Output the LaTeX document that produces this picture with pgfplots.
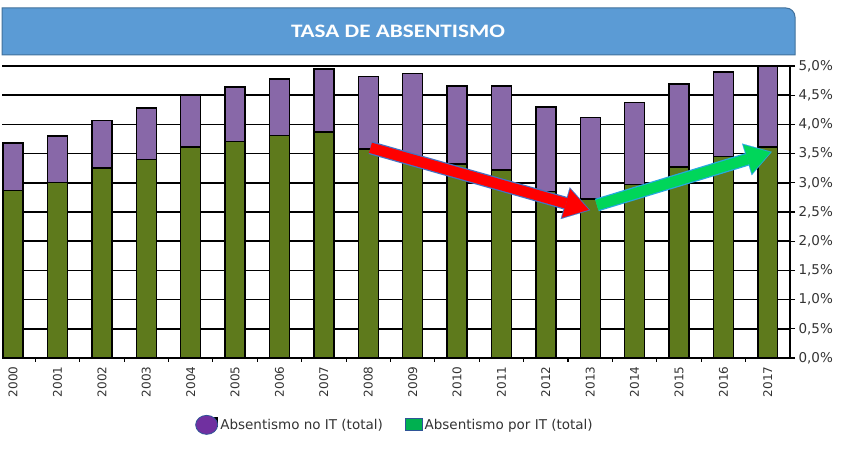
\documentclass[border=0pt]{standalone}
\usepackage{pgfplots}
\pgfplotsset{compat=1.18}
\usepackage{fontspec}
\setmainfont{DejaVu Sans}
\newfontfamily\titlefont{Carlito}
\usetikzlibrary{arrows.meta}
\definecolor{barGreen}{HTML}{5E7A1C}
\definecolor{barPurple}{HTML}{8868A8}
\definecolor{banner}{HTML}{5B9BD5}
\definecolor{bannerEdge}{HTML}{41719C}
\definecolor{legPurple}{HTML}{7030A0}
\definecolor{legGreen}{HTML}{00B050}
\definecolor{legEdge}{HTML}{2F5597}
\definecolor{arrRed}{HTML}{FF0000}
\definecolor{arrRedEdge}{HTML}{4472C4}
\definecolor{arrGreen}{HTML}{00D65A}
\definecolor{arrGreenEdge}{HTML}{25A9E0}
\definecolor{tickText}{HTML}{333333}
\begin{document}
\begin{tikzpicture}[x=1pt,y=1pt]
\useasboundingbox (0,0) rectangle (852,452);
\draw[fill=banner, draw=bannerEdge, line width=1pt] (2,397) -- (2,444) -- (786,444) arc[start angle=90, end angle=0, radius=9] -- (795,397) -- cycle;
\node[text=white, xscale=1.22, font=\titlefont\bfseries\fontsize{19}{22}\selectfont] at (398,421) {TASA DE ABSENTISMO};
\begin{axis}[
  at={(2pt,94pt)}, anchor=south west,
  scale only axis, width=788pt, height=292pt,
  ybar stacked, bar width=0.45,
  xmin=-0.25, xmax=17.5, ymin=0, ymax=5,
  axis y line*=right, axis x line*=bottom,
  axis line style={black, line width=1.3pt},
  ytick={0,0.5,1,1.5,2,2.5,3,3.5,4,4.5,5},
  ymajorgrids, grid style={black, line width=1.6pt},
  /pgf/number format/assume math mode=true,
  yticklabel={\pgfmathprintnumber[fixed,fixed zerofill,precision=1,use comma]{\tick}\%},
  yticklabel style={font=\fontsize{13.5}{15}\selectfont, text=tickText},
  tick align=outside,
  major tick length=5pt, minor tick length=4pt,
  tick style={black, line width=1.1pt},
  xtick={0,...,17},
  xticklabels={2000,2001,2002,2003,2004,2005,2006,2007,2008,2009,2010,2011,2012,2013,2014,2015,2016,2017},
  x tick label style={rotate=90, anchor=east, font=\fontsize{12}{13}\selectfont, text=tickText},
  major x tick style={draw=none},
  minor xtick={0.5,1.5,2.5,3.5,4.5,5.5,6.5,7.5,8.5,9.5,10.5,11.5,12.5,13.5,14.5,15.5,16.5},
  reverse legend,
  legend style={at={(0.4987,-0.229)}, anchor=center, legend columns=2, draw=none, fill=none,
    font=\fontsize{13.5}{15}\selectfont, text=tickText, inner sep=0pt,
    /tikz/every even column/.append style={column sep=20pt}},
]
\addplot[fill=barGreen, draw=black, line width=1.4pt,
  legend image code/.code={\draw[fill=legGreen, draw=legEdge, line width=0.8pt] (0pt,-6pt) rectangle (17pt,6pt);}]
  coordinates {(0,2.87) (1,3.00) (2,3.25) (3,3.40) (4,3.61) (5,3.71) (6,3.81) (7,3.87) (8,3.58) (9,3.45) (10,3.32) (11,3.22) (12,2.85) (13,2.72) (14,2.97) (15,3.27) (16,3.45) (17,3.61)};
\addlegendentry{Absentismo por IT (total)}
\addplot[fill=barPurple, draw=black, line width=1.4pt,
  legend image code/.code={\fill[black] (8pt,-1pt) rectangle (19pt,7pt); \draw[fill=legPurple, draw=legEdge, line width=0.8pt] (8pt,0pt) ellipse [x radius=11pt, y radius=9.5pt];}]
  coordinates {(0,0.81) (1,0.80) (2,0.82) (3,0.88) (4,0.88) (5,0.93) (6,0.97) (7,1.08) (8,1.24) (9,1.42) (10,1.34) (11,1.44) (12,1.45) (13,1.40) (14,1.40) (15,1.42) (16,1.45) (17,1.38)};
\addlegendentry{Absentismo no IT (total)}
\coordinate (rA) at (axis cs:8.05,3.60);
\coordinate (rB) at (axis cs:13.0,2.53);
\coordinate (gA) at (axis cs:13.15,2.62);
\coordinate (gB) at (axis cs:17.09,3.53);
\end{axis}
\draw[line width=13pt, draw=arrRedEdge, -{Triangle[length=26pt,width=33pt,line width=0.1pt,fill=arrRedEdge]}] (rA) -- (rB);
\draw[line width=10.5pt, draw=arrRed, shorten >=1.6pt, -{Triangle[length=23.5pt,width=29.5pt,line width=0.1pt,fill=arrRed]}] (rA) -- (rB);
\draw[line width=13pt, draw=arrGreenEdge, -{Triangle[length=26pt,width=33pt,line width=0.1pt,fill=arrGreenEdge]}] (gA) -- (gB);
\draw[line width=10.5pt, draw=arrGreen, shorten >=1.6pt, -{Triangle[length=23.5pt,width=29.5pt,line width=0.1pt,fill=arrGreen]}] (gA) -- (gB);
\end{tikzpicture}
\end{document}
